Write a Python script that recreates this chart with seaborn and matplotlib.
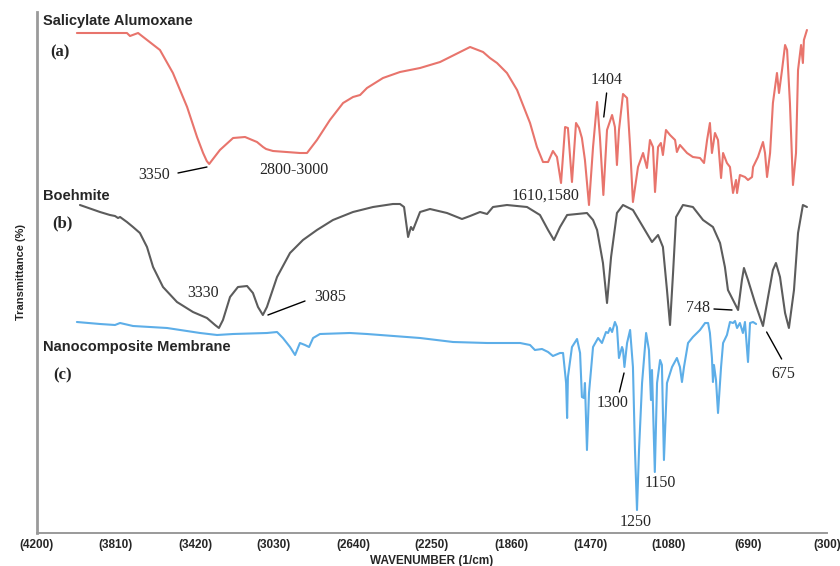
import numpy as np
import pandas as pd
import matplotlib
matplotlib.use("Agg")
import matplotlib.pyplot as plt
from matplotlib.ticker import FixedLocator, FuncFormatter
import seaborn as sns

# ---- FTIR spectra (wavenumber in 1/cm, stacked transmittance in a.u.) ----
wn_a = [4003, 3756, 3741, 3701, 3593, 3529, 3459, 3410, 3380, 3362, 3350, 3335,
        3297, 3232,
        3173, 3114, 3084, 3069, 3035, 2902, 2867, 2818, 2754, 2689, 2640, 2605,
        2571, 2492, 2408, 2309, 2210, 2062, 1998, 1964, 1929, 1880, 1830, 1766,
        1732, 1702, 1677, 1653, 1633, 1613, 1593, 1579, 1559, 1539, 1524, 1510,
        1495, 1475, 1455, 1435, 1421, 1404, 1386, 1361, 1347, 1337, 1327, 1307,
        1287, 1272, 1258, 1233, 1208, 1189, 1174, 1159, 1149, 1134, 1120, 1110,
        1095, 1075, 1050, 1041, 1026, 991, 962, 927, 907, 892, 878, 868, 853,
        838, 823, 813, 794, 779, 764, 749, 744, 730, 705, 690, 670, 665, 641,
        616, 606, 596, 581, 567, 547, 537, 522, 507, 497, 483, 468, 453, 443,
        428, 419, 414, 399]
tr_a = [500, 500, 497, 500, 483, 460, 426, 396, 380, 372, 369, 373,
        383, 395,
        396, 391, 386, 384, 382, 380, 380, 393, 413, 430, 436, 438,
        445, 455, 461, 465, 471, 486, 481, 475, 470, 460, 443, 410,
        386, 371, 371, 382, 376, 350, 406, 405, 351, 410, 405, 395,
        373, 328, 386, 431, 396, 338, 403, 418, 406, 368, 403, 439,
        435, 386, 331, 366, 380, 365, 393, 386, 341, 386, 390, 378,
        403, 398, 393, 381, 388, 380, 376, 375, 370, 393, 410, 380, 400,
        393, 355, 380, 370, 366, 340, 353, 340, 358, 356, 353, 356, 366, 376,
        391, 380, 356, 380, 430, 460, 440, 463, 488, 483, 430, 348, 380, 463,
        488, 470, 493, 503]

wn_b = [3988, 3889, 3840, 3815, 3800, 3790, 3756, 3726, 3692, 3657, 3627, 3578,
        3509, 3430, 3361, 3321, 3302, 3282, 3247, 3208, 3163, 3134, 3109, 3085,
        3065, 3015, 2951, 2887, 2818, 2739, 2640, 2541, 2443, 2408, 2388, 2368,
        2354, 2344, 2309, 2260, 2176, 2102, 2062, 2013, 1978, 1949, 1880, 1781,
        1717, 1677, 1648, 1618, 1583, 1534, 1485, 1455, 1435, 1406, 1386, 1366,
        1337, 1307, 1258, 1208, 1164, 1134, 1110, 1090, 1075, 1060, 1045, 1011,
        962, 912, 863, 828, 804, 789, 764, 739, 720, 710, 690, 655, 616, 591,
        567, 552, 532, 507, 488, 463, 443, 419, 399]
tr_b = [328, 321, 318, 317, 315, 316, 311, 306, 300, 286, 266, 246,
        231, 221, 215, 208, 205, 213, 236, 246, 247, 240, 226, 218,
        226, 256, 280, 293, 303, 313, 321, 326, 329, 329, 326, 296,
        306, 303, 321, 324, 320, 314, 317, 321, 319, 326, 328, 326,
        318, 303, 293, 306, 318, 319, 320, 313, 303, 270, 230, 276,
        320, 328, 323, 306, 291, 298, 286, 243, 208, 260, 316, 328,
        326, 313, 306, 290, 266, 243, 233, 223, 253, 265, 253, 230, 207, 236,
        263, 270, 256, 220, 205, 243, 300, 328, 326]

wn_c = [4003, 3889, 3815, 3790, 3726, 3558, 3395, 3311, 3232, 3065, 3015, 2986,
        2951, 2926, 2902, 2877, 2857, 2837, 2803, 2655, 2571, 2309, 2146, 1978,
        1815, 1766, 1742, 1707, 1677, 1653, 1618, 1603, 1588, 1583, 1579, 1559,
        1534, 1519, 1510, 1500, 1495, 1485, 1475, 1455, 1430, 1411, 1391, 1381,
        1371, 1361, 1347, 1337, 1327, 1312, 1307, 1300, 1287, 1272, 1258, 1248,
        1238, 1228, 1213, 1193, 1179, 1169, 1164, 1150, 1139, 1124, 1115, 1105,
        1090, 1065, 1041, 1026, 1016, 1006, 986, 962, 927, 902, 887, 878, 868,
        863, 858, 848, 838, 823, 813, 794, 779, 764, 754, 744, 730, 715, 705,
        690, 680, 665, 650]
tr_c = [211, 209, 208, 210, 207, 205, 200, 198, 199, 200, 201, 195,
        186, 178, 190, 188, 186, 195, 199, 200, 199, 195, 191, 190,
        190, 188, 183, 184, 181, 177, 180, 180, 150, 115, 156, 186,
        194, 180, 136, 135, 150, 83, 140, 186, 195, 190, 201, 200,
        205, 201, 211, 206, 175, 186, 183, 166, 190, 203, 166, 83,
        23, 83, 150, 200, 183, 133, 163, 61, 150, 173, 168, 73,
        150, 166, 175, 166, 151, 166, 190, 196, 203, 210, 210, 200, 175,
        151, 168, 153, 120, 166, 190, 198, 211, 210, 212, 205, 210, 200, 211,
        171, 210, 211, 209]

trace_names = ["Salicylate Alumoxane", "Boehmite", "Nanocomposite Membrane"]
trace_colors = ["#E8746C", "#5C5C5C", "#5DAEE8"]
x_ticks = [4200, 3810, 3420, 3030, 2640, 2250, 1860, 1470, 1080, 690, 300]

df = pd.concat([
    pd.DataFrame({"wavenumber": wn_a, "signal": tr_a, "trace": trace_names[0]}),
    pd.DataFrame({"wavenumber": wn_b, "signal": tr_b, "trace": trace_names[1]}),
    pd.DataFrame({"wavenumber": wn_c, "signal": tr_c, "trace": trace_names[2]}),
], ignore_index=True)

sns.set_style("white")
plt.rcParams["font.family"] = ["Liberation Sans", "DejaVu Sans"]

fig = plt.figure(figsize=(8.4, 5.66), dpi=100)
ax = fig.add_axes([37 / 840, 33 / 566, 790 / 840, 521 / 566])

sns.lineplot(data=df, x="wavenumber", y="signal", hue="trace",
             palette=dict(zip(trace_names, trace_colors)), sort=False,
             estimator=None, legend=False, linewidth=1.5, ax=ax)
for ln in ax.lines:
    ln.set_solid_joinstyle("round")

ax.set_xlim(4200, 300)
ax.set_ylim(0, 521)
ax.xaxis.set_major_locator(FixedLocator(x_ticks))
ax.xaxis.set_major_formatter(FuncFormatter(lambda v, p: f"({int(round(v))})"))
ax.set_yticks([])
ax.tick_params(axis="x", direction="in", length=2, width=1, color="#999999",
               labelsize=8.5, pad=4)
for lab in ax.get_xticklabels():
    lab.set_fontweight("bold")

for side in ("top", "right"):
    ax.spines[side].set_visible(False)
ax.spines["left"].set_color("#9a9a9a")
ax.spines["left"].set_linewidth(2.0)
ax.spines["bottom"].set_color("#9a9a9a")
ax.spines["bottom"].set_linewidth(1.4)

ax.set_xlabel("WAVENUMBER (1/cm)", fontsize=8.5, fontweight="bold", va="center")
ax.xaxis.set_label_coords(0.5, -0.054)
ax.set_ylabel("Transmittance (%)", fontsize=8, fontweight="bold", labelpad=8)

# Trace titles and panel tags
sans = dict(fontsize=10.5, fontweight="bold", ha="left", va="center")
serif = dict(family=["Liberation Serif", "DejaVu Serif"], fontsize=11.5,
             ha="center", va="center")
ax.text(4170, 512, trace_names[0], **sans)
ax.text(4170, 337, trace_names[1], **sans)
ax.text(4170, 186, trace_names[2], **sans)
tag = dict(serif, fontweight="bold", ha="left", fontsize=12)
ax.text(4136, 481, "(a)", **tag)
ax.text(4126, 310, "(b)", **tag)
ax.text(4121, 158, "(c)", **tag)

# Peak assignments
peaks = [
    ("3350", 3624, 358, (3504, 360, 3361, 366)),
    ("2800-3000", 2934, 363, None),
    ("1404", 1386, 453, (1388, 440, 1402, 416)),
    ("1610,1580", 1687, 337, None),
    ("3330", 3380, 240, None),
    ("3085", 2754, 236, (3060, 218, 2877, 232)),
    ("748", 937, 225, (858, 224, 769, 223)),
    ("675", 517, 159, (598, 201, 524, 174)),
    ("1300", 1361, 130, (1325, 141, 1302, 160)),
    ("1150", 1122, 50, None),
    ("1250", 1243, 11, None),
]
for text, tx, ty, seg in peaks:
    ax.text(tx, ty, text, **serif)
    if seg is not None:
        ax.plot([seg[0], seg[2]], [seg[1], seg[3]], color="black", lw=1.0)

fig.savefig("out.png", dpi=100)
